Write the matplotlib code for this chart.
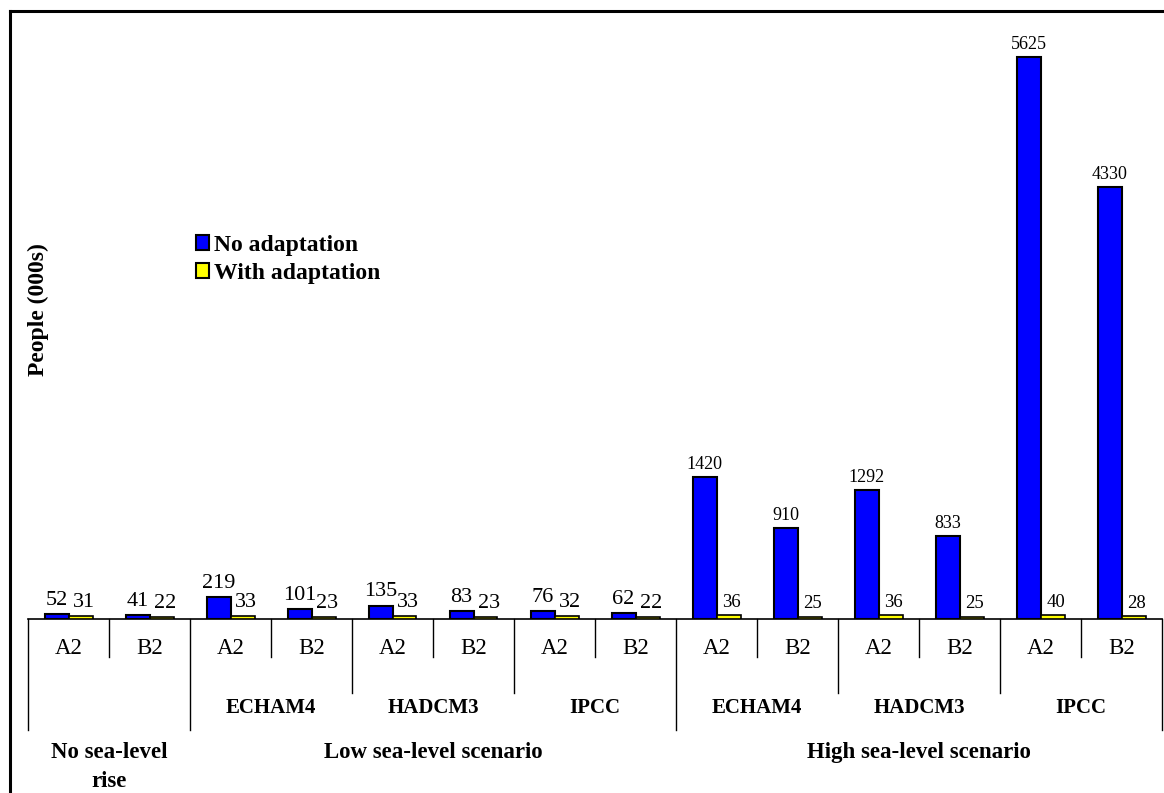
import matplotlib
matplotlib.use("Agg")
import matplotlib.pyplot as plt
from matplotlib.transforms import blended_transform_factory
from matplotlib.patches import Patch
from matplotlib.lines import Line2D

plt.rcParams['font.family'] = ['Liberation Serif', 'DejaVu Serif']

# Data
scenarios_ab = ["A2", "B2"] * 7
models = ["", "ECHAM4", "HADCM3", "IPCC", "ECHAM4", "HADCM3", "IPCC"]
scenario_groups = ["No sea-level\nrise", "Low sea-level scenario", "High sea-level scenario"]
scenario_spans = [1, 3, 3]  # number of model groups per scenario group
no_adaptation = [52, 41, 219, 101, 135, 83, 76, 62, 1420, 910, 1292, 833, 5625, 4330]
with_adaptation = [31, 22, 33, 23, 33, 23, 32, 22, 36, 25, 36, 25, 40, 28]
series_names = ["No adaptation", "With adaptation"]
colors = ["#0000FF", "#FFFF00"]

W, H = 1164, 793
fig = plt.figure(figsize=(W / 100, H / 100), dpi=100)

ax_left, ax_right, ax_bottom, ax_top = 28, 1162, 619, 20
ax = fig.add_axes([ax_left / W, (H - ax_bottom) / H, (ax_right - ax_left) / W, (ax_bottom - ax_top) / H])

n = len(no_adaptation)
bw = 24 / 81
xs = [i + 0.5 for i in range(n)]
ax.bar([x - bw for x in xs], no_adaptation, width=bw, align='edge', color=colors[0],
       edgecolor='black', linewidth=1.5, label=series_names[0], zorder=3)
ax.bar(xs, with_adaptation, width=bw, align='edge', color=colors[1],
       edgecolor='black', linewidth=1.2, label=series_names[1], zorder=3)

ax.set_xlim(0, n)
ax.set_ylim(0, 6000)
for s in ['top', 'right', 'left']:
    ax.spines[s].set_visible(False)
ax.spines['bottom'].set_linewidth(1.2)
ax.set_yticks([])
ax.set_xticks([])

# value labels (smaller font for the high sea-level scenario)
for i, (x, v) in enumerate(zip(xs, no_adaptation)):
    fs = 16 if i < 8 else 13
    ax.annotate(str(v), (x - bw / 2, v), xytext=(0, 3), textcoords='offset points',
                ha='center', va='bottom', fontsize=fs)
for i, (x, v) in enumerate(zip(xs, with_adaptation)):
    fs = 16 if i < 8 else 13.5
    ax.annotate(str(v), (x + bw / 2 + 0.04, v), xytext=(0, 3), textcoords='offset points',
                ha='center', va='bottom', fontsize=fs)

tr = blended_transform_factory(ax.transData, fig.transFigure)
def fy(p):
    return (H - p) / H

# separators
for i in range(n + 1):
    if i in (0, 2, 8, 14):
        yend = 730
    elif i in (4, 6, 10, 12):
        yend = 693
    else:
        yend = 657
    ax.add_line(Line2D([i, i], [fy(619), fy(yend)], transform=tr, color='black',
                       linewidth=1.0, clip_on=False))

# A2/B2 labels
for x, lab in zip(xs, scenarios_ab):
    fig.text(x, fy(648), lab, transform=tr, ha='center', va='center', fontsize=16.5)

# model labels
for j, m in enumerate(models):
    if m:
        fig.text(2 * j + 1, fy(708), m, transform=tr, ha='center', va='center',
                 fontsize=15, fontweight='bold')

# scenario group labels
start = 0
for lab, span in zip(scenario_groups, scenario_spans):
    centre = start + span
    fig.text(centre, fy(742), lab, transform=tr, ha='center', va='top',
             fontsize=16.5, fontweight='bold', linespacing=1.5)
    start += 2 * span

# y label
fig.text(38 / W, fy(310), "People (000s)", rotation=90, ha='center', va='center',
         fontsize=17, fontweight='bold')

# legend
handles = [Patch(facecolor=colors[0], edgecolor='black', linewidth=1.5),
           Patch(facecolor=colors[1], edgecolor='black', linewidth=1.5)]
fig.legend(handles, series_names, loc='upper left', bbox_to_anchor=(184 / W, fy(223)),
           frameon=False, prop={'weight': 'bold', 'size': 17}, handlelength=0.55,
           handleheight=0.55, handletextpad=0.2, labelspacing=0.3, borderpad=0)

# figure border (top and left)
fig.add_artist(Line2D([10 / W, 1], [fy(11), fy(11)], transform=fig.transFigure,
                      color='black', linewidth=2.2))
fig.add_artist(Line2D([10 / W, 10 / W], [fy(11), 0], transform=fig.transFigure,
                      color='black', linewidth=2.2))

fig.savefig("out.png", dpi=100)
